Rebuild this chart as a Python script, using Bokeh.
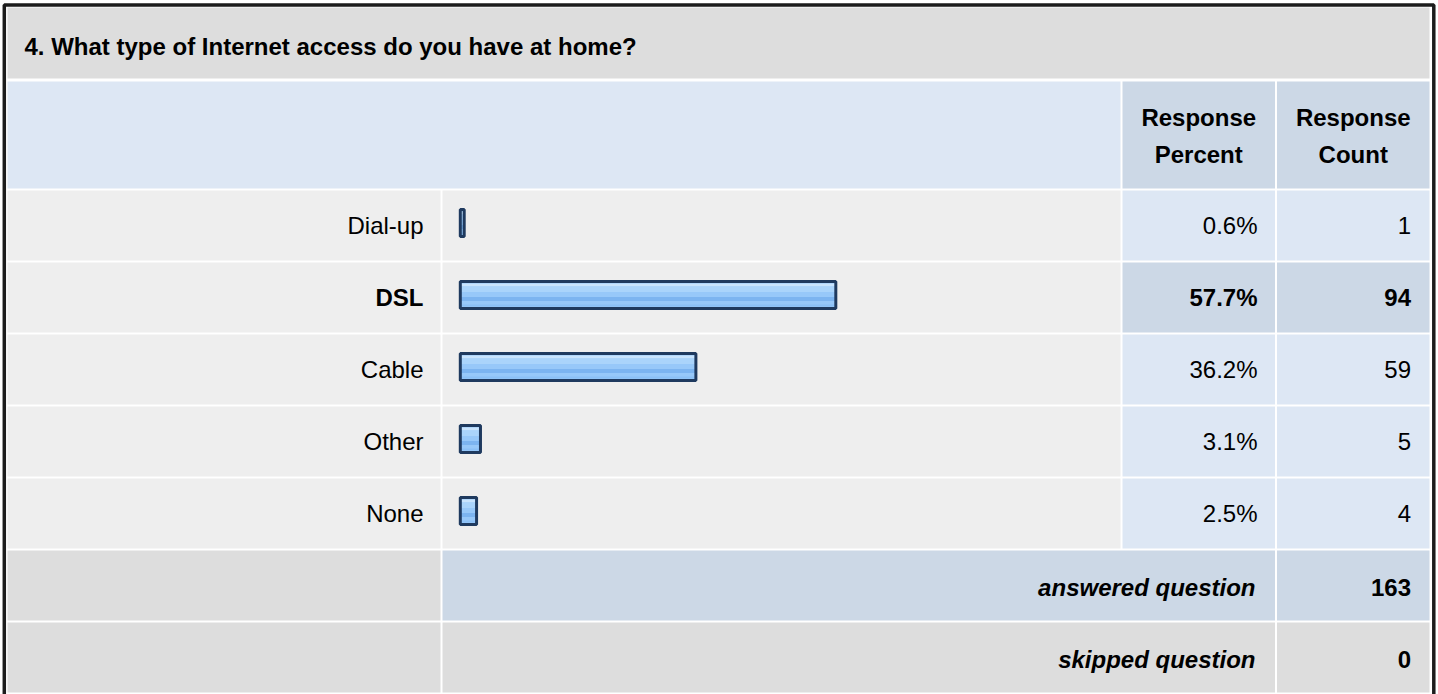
from bokeh.plotting import figure
from bokeh.models import Range1d, ColumnDataSource
from bokeh.core.properties import value
from bokeh.embed import file_html
from bokeh.resources import INLINE

# ---------------- data ----------------
question = "4. What type of Internet access do you have at home?"
categories = ["Dial-up", "DSL", "Cable", "Other", "None"]
percents = [0.6, 57.7, 36.2, 3.1, 2.5]
counts = [1, 94, 59, 5, 4]
header_percent = ["Response", "Percent"]
header_count = ["Response", "Count"]
summary_labels = ["answered question", "skipped question"]
summary_counts = [163, 0]

# ---------------- layout (reference pixel space) ----------------
W, H = 1438, 694
X_LO, X_HI = 0, W
Y_TOP, Y_BOT = 0, H
COL_LABEL = (7, 440)
COL_BAR = (442, 1120)
COL_PCT = (1122, 1274.5)
COL_CNT = (1276.5, 1429)
TITLE_ROW = (7, 78)
HEAD_ROW = (81, 188)
ROW0, ROW_PITCH, ROW_H = 190, 72, 70
BAR_X0, PX_PER_PCT = 459.8, 6.508
TEXT_DY = -8
FONT = value("Liberation Sans")
FS = "24px"

GRAY = "#dddddd"
LIGHT = "#eeeeee"
BLUE_L = "#dde7f4"
BLUE_D = "#ccd8e6"
BAR_FILL = "#97c8f9"
BAR_LINE = "#1f3a5f"
STRIPES = [(-10.0, 3.0, "#c9e4fd"), (-5.75, 5.5, "#aad4fb"), (4.0, 4.0, "#7cb4f0"), (10.5, 2.0, "#8bc0f6")]

hi = counts.index(max(counts))

p = figure(width=W, height=H, x_range=Range1d(X_LO, X_HI), y_range=Range1d(Y_BOT, Y_TOP),
           output_backend="svg", toolbar_location=None, min_border=0,
           x_axis_location=None, y_axis_location=None)
p.grid.visible = False
p.outline_line_color = None
p.background_fill_color = "white"
p.border_fill_color = "white"
p.extra_x_ranges = {"pct": Range1d((X_LO - BAR_X0) / PX_PER_PCT, (X_HI - BAR_X0) / PX_PER_PCT)}

# ---------------- cells ----------------
cl, cr, ct, cb, cc = [], [], [], [], []
def cell(col, row, color):
    cl.append(col[0]); cr.append(col[1]); ct.append(row[0]); cb.append(row[1]); cc.append(color)

cell((COL_LABEL[0], COL_CNT[1]), TITLE_ROW, GRAY)
cell((COL_LABEL[0], COL_BAR[1]), HEAD_ROW, BLUE_L)
cell(COL_PCT, HEAD_ROW, BLUE_D)
cell(COL_CNT, HEAD_ROW, BLUE_D)
row_centers = []
for i in range(len(categories)):
    r = (ROW0 + ROW_PITCH * i, ROW0 + ROW_PITCH * i + ROW_H)
    row_centers.append((r[0] + r[1]) / 2)
    cell(COL_LABEL, r, LIGHT)
    cell(COL_BAR, r, LIGHT)
    cc_ = BLUE_D if i == hi else BLUE_L
    cell(COL_PCT, r, cc_)
    cell(COL_CNT, r, cc_)
sum_centers = []
for j in range(len(summary_labels)):
    k = len(categories) + j
    r = (ROW0 + ROW_PITCH * k, ROW0 + ROW_PITCH * k + ROW_H)
    sum_centers.append((r[0] + r[1]) / 2)
    col = BLUE_D if j == 0 else GRAY
    cell(COL_LABEL, r, GRAY)
    cell((COL_BAR[0], COL_PCT[1]), r, col)
    cell(COL_CNT, r, col)

p.quad(left=cl, right=cr, top=ct, bottom=cb, fill_color=cc, line_color=None)

# outer border
p.quad(left=[3.8], right=[1433.3], top=[4.5], bottom=[730], fill_color=None,
       line_color="#1c1c1c", line_width=3.5)

# ---------------- bars ----------------
bar_src = ColumnDataSource(dict(y=[c - 2.5 for c in row_centers], pct=percents))
p.hbar(y="y", left=0, right="pct", height=27, source=bar_src, x_range_name="pct",
       fill_color=BAR_FILL, line_color=None)
for off, h, col in STRIPES:
    s = ColumnDataSource(dict(y=[c - 2.5 + off for c in row_centers], pct=percents))
    p.hbar(y="y", left=0, right="pct", height=h, source=s, x_range_name="pct",
           fill_color=col, line_color=None)
p.hbar(y="y", left=0, right="pct", height=27, source=bar_src, x_range_name="pct",
       fill_color=None, line_color=BAR_LINE, line_width=3)

# ---------------- texts ----------------
def txt(x, y, t, align, style):
    p.text(x=x, y=[v + TEXT_DY for v in y], text=t, text_align=align, text_baseline="alphabetic",
           text_font=FONT, text_font_size=FS, text_font_style=style, text_color="black")

txt([24], [54], [question], "left", "bold")
pc = (COL_PCT[0] + COL_PCT[1]) / 2
cc2 = (COL_CNT[0] + COL_CNT[1]) / 2
txt([pc, pc], [125, 162], header_percent, "center", "bold")
txt([cc2, cc2], [125, 162], header_count, "center", "bold")

for i, (cat, pv, cn) in enumerate(zip(categories, percents, counts)):
    style = "bold" if i == hi else "normal"
    yb = row_centers[i] + 8
    txt([COL_LABEL[1] - 17], [yb], [cat], "right", style)
    txt([COL_PCT[1] - 17.5], [yb], [f"{pv:.1f}%"], "right", style)
    txt([COL_CNT[1] - 18.5], [yb], [str(cn)], "right", style)

for j, (lab, cn) in enumerate(zip(summary_labels, summary_counts)):
    yb = sum_centers[j] + 9.5
    txt([COL_PCT[1] - 19.5], [yb], [lab], "right", "bold italic")
    txt([COL_CNT[1] - 18.5], [yb], [str(cn)], "right", "bold")

open("out.html", "w").write(file_html(p, INLINE))
